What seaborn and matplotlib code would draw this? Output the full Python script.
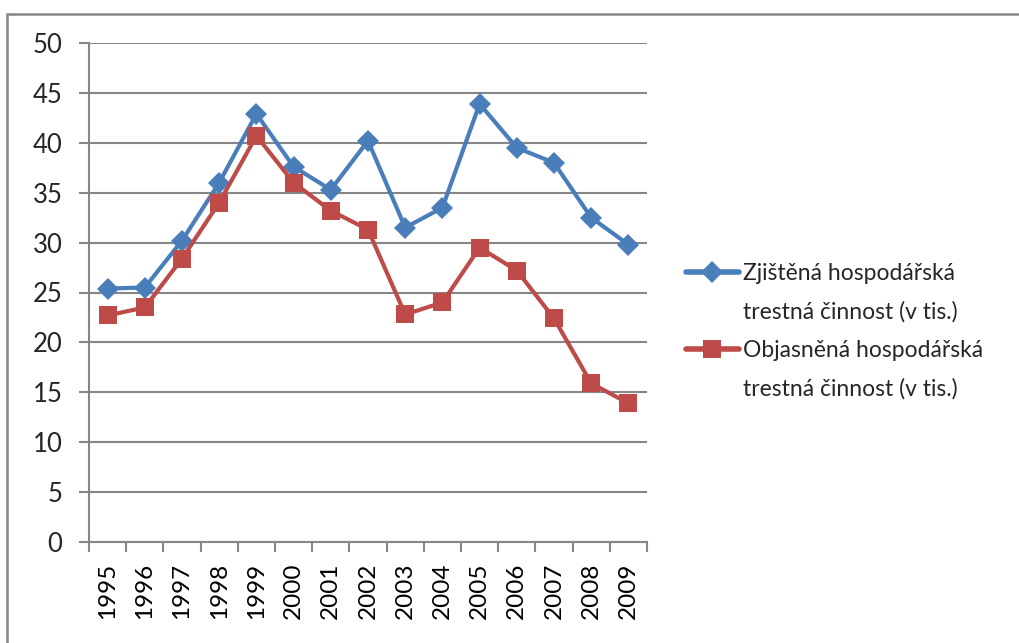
import matplotlib
matplotlib.use("Agg")
import matplotlib.pyplot as plt
import seaborn as sns
import pandas as pd
from matplotlib.patches import Rectangle
from matplotlib.lines import Line2D
from matplotlib.ticker import MultipleLocator

years = list(range(1995, 2010))
zjistena = [25.4, 25.5, 30.2, 36.0, 42.9, 37.6, 35.3, 40.2, 31.5, 33.5, 43.9, 39.5, 38.0, 32.5, 29.8]
objasnena = [22.7, 23.5, 28.4, 34.0, 40.7, 36.0, 33.2, 31.3, 22.8, 24.0, 29.5, 27.2, 22.4, 15.9, 13.9]
labels = ["Zjištěná hospodářská trestná činnost (v tis.)",
          "Objasněná hospodářská trestná činnost (v tis.)"]
colors = ['#4A7EBB', '#BE4B48']

df = pd.DataFrame({"Rok": years * 2,
                   "Hodnota": zjistena + objasnena,
                   "Serie": [labels[0]] * 15 + [labels[1]] * 15})

sns.set_style("white")
plt.rcParams['font.family'] = ['Lato', 'DejaVu Sans']

grid_col = '#868686'
fig = plt.figure(figsize=(10.2, 6.43), dpi=100)
ax = fig.add_axes([89 / 1020, 1 - 542 / 643, 558 / 1020, 499 / 643])

sns.lineplot(data=df, x="Rok", y="Hodnota", hue="Serie", style="Serie",
             markers={labels[0]: 'D', labels[1]: 's'}, dashes=False,
             palette=dict(zip(labels, colors)),
             linewidth=3, markeredgewidth=0, ax=ax, legend=False)
for line, ms in zip(ax.lines[:2], [11, 13]):
    line.set_markersize(ms)

ax.set_xlim(1994.5, 2009.5)
ax.set_ylim(0, 50)
ax.yaxis.set_major_locator(MultipleLocator(5))
ax.set_xticks(years)
ax.set_xticklabels([str(y) for y in years], rotation=90)
ax.set_xticks([y - 0.5 for y in years] + [2009.5], minor=True)
ax.tick_params(axis='x', which='major', length=0, pad=15, labelsize=17.5, colors='black')
ax.tick_params(axis='x', which='minor', length=7, width=1.5, color=grid_col, direction='out', bottom=True)
ax.tick_params(axis='y', length=7, width=1.5, color=grid_col, direction='out', left=True, pad=12, labelsize=18.5)
ax.grid(axis='y', color=grid_col, linewidth=1.5)
ax.grid(axis='x', visible=False)
ax.set_axisbelow(True)
for s in ['top', 'right']:
    ax.spines[s].set_visible(False)
for s in ['left', 'bottom']:
    ax.spines[s].set_color(grid_col)
    ax.spines[s].set_linewidth(1.5)
ax.set_xlabel("")
ax.set_ylabel("")

# legend: handle on first line of each label, second line without handle
handles, texts = [], []
for lab, col, mk, ms in zip(labels, colors, ['D', 's'], [11, 13]):
    first, second = lab.split(" trestná")
    handles.append(Line2D([], [], color=col, linewidth=4, marker=mk, markersize=ms, markeredgewidth=0))
    texts.append(first)
    handles.append(Line2D([], [], color='none'))
    texts.append("trestná" + second)
ax.legend(handles, texts, loc='center left', bbox_to_anchor=(1.07, 0.422),
          frameon=False, fontsize=16.5, handlelength=2.3, handletextpad=0.2,
          labelspacing=0.75, borderaxespad=0, borderpad=0)

fig.patches.append(Rectangle((7 / 1020, -0.1), 1.2, 1 - 14 / 643 + 0.1,
                             transform=fig.transFigure, fill=False,
                             edgecolor=grid_col, linewidth=1.8))

fig.savefig("out.png", dpi=100)
